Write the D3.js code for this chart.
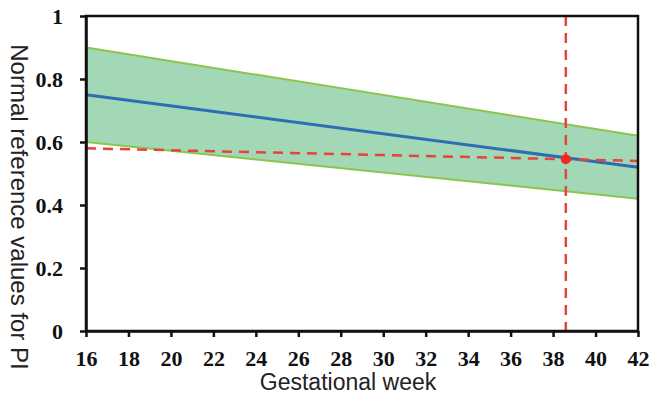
<!DOCTYPE html>
<html>
<head>
<meta charset="utf-8">
<script src="https://cdn.jsdelivr.net/npm/d3@7"></script>
<style>
  body { margin: 0; background: #fff; }
  .tick text { font-family: "Liberation Serif", "Times New Roman", serif; font-weight: bold; font-size: 22px; fill: #111; }
</style>
</head>
<body>
<svg id="chart" width="650" height="398"></svg>
<script>
// gestational weeks and reference band (PI)
var weeks = [16, 42];
var upperLimit = [0.9, 0.62];
var meanLine = [0.75, 0.52];
var lowerLimit = [0.6, 0.42];
// measured case
var caseWeek = 38.6;
var casePI = 0.545;
var caseLine = [0.58, 0.54];
var xTicks = [16, 18, 20, 22, 24, 26, 28, 30, 32, 34, 36, 38, 40, 42];
var yTicks = [0, 0.2, 0.4, 0.6, 0.8, 1];

var svg = d3.select('#chart');
var plotLeft = 86, plotRight = 638, plotTop = 16, plotBottom = 331;

var x = d3.scaleLinear().domain([16, 42]).range([plotLeft, plotRight]);
var y = d3.scaleLinear().domain([0, 1]).range([plotBottom, plotTop]);

var band = weeks.map((w, i) => ({ w: w, lo: lowerLimit[i], hi: upperLimit[i], m: meanLine[i], c: caseLine[i] }));

svg.append('path')
    .datum(band)
    .attr('d', d3.area().x(d => x(d.w)).y0(d => y(d.lo)).y1(d => y(d.hi)))
    .attr('fill', '#a3d8b6');

svg.append('path')
    .datum(band)
    .attr('d', d3.line().x(d => x(d.w)).y(d => y(d.hi)))
    .attr('fill', 'none')
    .attr('stroke', '#8cc44e')
    .attr('stroke-width', 2);

svg.append('path')
    .datum(band)
    .attr('d', d3.line().x(d => x(d.w)).y(d => y(d.lo)))
    .attr('fill', 'none')
    .attr('stroke', '#8cc44e')
    .attr('stroke-width', 2);

svg.append('path')
    .datum(band)
    .attr('d', d3.line().x(d => x(d.w)).y(d => y(d.m)))
    .attr('fill', 'none')
    .attr('stroke', '#2c6db4')
    .attr('stroke-width', 3);

// red guide lines
svg.append('path')
    .datum(band)
    .attr('d', d3.line().x(d => x(d.w)).y(d => y(d.c)))
    .attr('fill', 'none')
    .attr('stroke', '#e5443a')
    .attr('stroke-width', 2.5)
    .attr('stroke-dasharray', '10,7');

svg.append('line')
    .attr('x1', x(caseWeek)).attr('x2', x(caseWeek))
    .attr('y1', y(1)).attr('y2', y(0))
    .attr('stroke', '#e5443a')
    .attr('stroke-width', 2.5)
    .attr('stroke-dasharray', '10,7');

svg.append('circle')
    .attr('cx', x(caseWeek))
    .attr('cy', y(casePI))
    .attr('r', 5)
    .attr('fill', '#f0281e');

// frame
svg.append('rect')
    .attr('x', plotLeft).attr('y', plotTop)
    .attr('width', plotRight - plotLeft).attr('height', plotBottom - plotTop)
    .attr('fill', 'none')
    .attr('stroke', '#111')
    .attr('stroke-width', 2.5);

var xAxis = svg.append('g')
    .attr('transform', 'translate(0,' + plotBottom + ')')
    .call(d3.axisBottom(x).tickValues(xTicks).tickSize(6).tickSizeOuter(0).tickPadding(13));

var yAxis = svg.append('g')
    .attr('transform', 'translate(' + plotLeft + ',0)')
    .call(d3.axisLeft(y).tickValues(yTicks).tickSize(6).tickSizeOuter(0).tickPadding(17)
        .tickFormat(d => d === 0 || d === 1 ? d : d3.format('.1f')(d)));

[xAxis, yAxis].forEach(g => {
    g.select('.domain').attr('stroke', '#111').attr('stroke-width', 2.5);
    g.selectAll('.tick line').attr('stroke', '#111').attr('stroke-width', 2.5);
});
yAxis.selectAll('.tick text').attr('dy', '0.36em');

svg.append('text')
    .attr('x', 348).attr('y', 390)
    .attr('text-anchor', 'middle')
    .attr('font-family', '"Liberation Sans", Arial, sans-serif')
    .attr('font-size', 23)
    .attr('fill', '#222')
    .text('Gestational week');

svg.append('text')
    .attr('transform', 'translate(11,207) rotate(90)')
    .attr('text-anchor', 'middle')
    .attr('font-family', '"Liberation Sans", Arial, sans-serif')
    .attr('font-size', 24)
    .attr('fill', '#222')
    .text('Normal reference values for PI');
</script>
</body>
</html>
